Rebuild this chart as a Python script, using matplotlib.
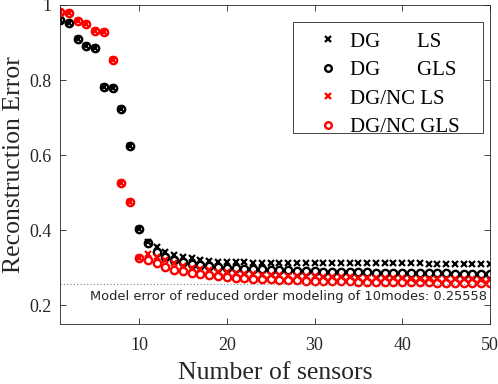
import matplotlib.pyplot as plt
from matplotlib.patches import Rectangle
import numpy as np

# number of sensors
n_sensors = np.arange(1, 51)

# reconstruction error
dg_ls = [0.960, 0.952, 0.909, 0.891, 0.885, 0.781, 0.778, 0.724, 0.625, 0.404,
         0.370, 0.355, 0.342, 0.334, 0.329, 0.325, 0.321, 0.318, 0.316, 0.315,
         0.315, 0.315, 0.314, 0.314, 0.314, 0.314, 0.313, 0.313, 0.313, 0.313,
         0.313, 0.313, 0.313, 0.312, 0.312, 0.312, 0.312, 0.312, 0.312, 0.312,
         0.312, 0.312, 0.311, 0.311, 0.311, 0.311, 0.311, 0.311, 0.311, 0.311]
dg_gls = [0.960, 0.952, 0.909, 0.891, 0.885, 0.781, 0.778, 0.724, 0.625, 0.404,
          0.365, 0.341, 0.329, 0.322, 0.316, 0.311, 0.307, 0.305, 0.302, 0.300,
          0.299, 0.298, 0.297, 0.296, 0.295, 0.294, 0.293, 0.292, 0.291, 0.291,
          0.290, 0.290, 0.289, 0.289, 0.288, 0.288, 0.287, 0.287, 0.287, 0.286,
          0.286, 0.286, 0.285, 0.285, 0.285, 0.284, 0.284, 0.284, 0.283, 0.283]
dgnc_ls = [0.982, 0.978, 0.958, 0.949, 0.931, 0.927, 0.853, 0.526, 0.474, 0.326,
           0.336, 0.330, 0.320, 0.312, 0.305, 0.300, 0.296, 0.293, 0.290, 0.288,
           0.286, 0.284, 0.283, 0.282, 0.281, 0.280, 0.279, 0.278, 0.278, 0.277,
           0.276, 0.276, 0.275, 0.275, 0.274, 0.274, 0.273, 0.273, 0.272, 0.272,
           0.271, 0.271, 0.270, 0.270, 0.270, 0.269, 0.269, 0.269, 0.268, 0.268]
dgnc_gls = [0.982, 0.978, 0.958, 0.949, 0.931, 0.927, 0.853, 0.526, 0.474, 0.326,
            0.320, 0.313, 0.302, 0.295, 0.292, 0.287, 0.283, 0.280, 0.277, 0.275,
            0.273, 0.272, 0.271, 0.270, 0.269, 0.268, 0.267, 0.267, 0.266, 0.266,
            0.265, 0.265, 0.264, 0.264, 0.263, 0.263, 0.263, 0.262, 0.262, 0.262,
            0.261, 0.261, 0.261, 0.260, 0.260, 0.260, 0.260, 0.259, 0.259, 0.259]

model_err = 0.25558
n_modes = 10

labels = ['DG       LS', 'DG       GLS', 'DG/NC LS', 'DG/NC GLS']

serif = ['Liberation Serif', 'DejaVu Serif']

fig = plt.figure(figsize=(4.98, 3.84), dpi=100)
ax = fig.add_axes([0.1205, 0.156, 0.8635, 0.831])

ax.plot(n_sensors, dg_ls, 'x', color='k', ms=4.2, mew=1.6, label=labels[0])
ax.plot(n_sensors, dg_gls, 'o', color='k', mfc='none', ms=5.3, mew=1.7, label=labels[1])
ax.plot(n_sensors, dgnc_ls, 'x', color='r', ms=4.2, mew=1.6, label=labels[2])
ax.plot(n_sensors, dgnc_gls, 'o', color='r', mfc='none', ms=5.3, mew=1.7, label=labels[3])

ax.axhline(model_err, color='0.5', lw=0.8, ls=(0, (1, 2)))
ax.text(49.6, model_err - 0.032,
        'Model error of reduced order modeling of %dmodes: %.5f' % (n_modes, model_err),
        ha='right', va='center', fontsize=9.4, family=['DejaVu Sans'], color='0.15')

ax.set_xlim(1, 50)
ax.set_ylim(0.15, 1)
ax.set_xticks([10, 20, 30, 40, 50])
ax.set_yticks([0.2, 0.4, 0.6, 0.8, 1.0])
ax.set_yticklabels(['0.2', '0.4', '0.6', '0.8', '1'])
ax.tick_params(direction='in', top=True, right=True, length=4, width=0.6,
               color='0.15', labelsize=13, labelcolor='0.15')
ax.tick_params(axis='x', pad=9)
ax.tick_params(axis='y', pad=6)
for lab in ax.get_xticklabels() + ax.get_yticklabels():
    lab.set_family(serif)
for s in ax.spines.values():
    s.set_color('0.15')
    s.set_linewidth(0.6)

ax.set_xlabel('Number of sensors', fontsize=18.5, family=serif, labelpad=6, color='0.15')
ax.set_ylabel('Reconstruction Error', fontsize=18.5, family=serif, labelpad=3, color='0.15')

# legend box drawn separately (wider side margins than matplotlib's borderpad)
ax.add_patch(Rectangle((0.542, 0.599), 0.442, 0.348, transform=ax.transAxes,
                       facecolor='white', edgecolor='0.15', lw=0.6, zorder=4))
leg = ax.legend(loc='upper left', bbox_to_anchor=(0.599, 0.915),
                borderaxespad=0, borderpad=0, frameon=False,
                prop={'family': serif, 'size': 15},
                handlelength=1.0, handletextpad=0.55, markerscale=0.9,
                labelspacing=0.43)
leg.set_zorder(5)

fig.savefig('out.png', dpi=100)
